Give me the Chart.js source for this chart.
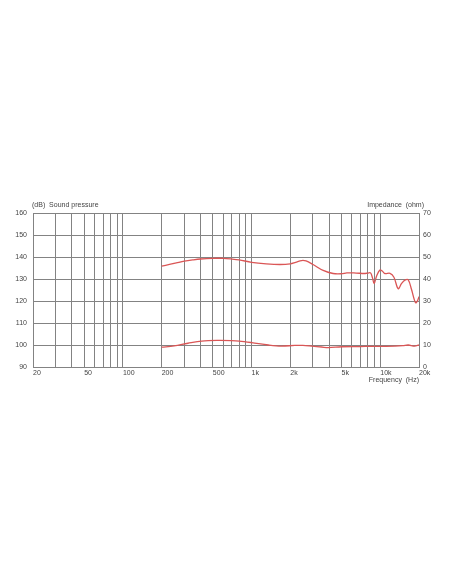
<!DOCTYPE html>
<html>
<head>
<meta charset="utf-8">
<script src="https://cdn.jsdelivr.net/npm/chart.js@4.4.1/dist/chart.umd.min.js"></script>
<style>
  html, body { margin: 0; padding: 0; background: #fff; }
  #wrap { position: relative; width: 452px; height: 584px; }
  .cap { position: absolute; font: 7px "Liberation Sans", Arial, sans-serif; color: #444; white-space: pre; line-height: 8px; }
</style>
</head>
<body>
<div id="wrap">
  <canvas id="c" width="452" height="584"></canvas>
  <div class="cap" style="left:32px; top:201px;">(dB)  Sound pressure</div>
  <div class="cap" style="right:28px; top:201px;">Impedance  (ohm)</div>
</div>
<script>
// ---- data ----
const splFreq = [200, 230, 260, 300, 350, 400, 500, 600, 700, 800, 1000, 1300, 1660, 2000, 2200, 2450, 2650, 3000, 3600, 4300, 5000, 5500, 6500, 7500, 8000, 8400, 8700, 8975, 9370, 9940, 10400, 10870, 11900, 12770, 13780, 14650, 15540, 16500, 17500, 18800, 19500, 20000];
const splDb   = [135.8, 136.6, 137.3, 138.1, 138.7, 139.1, 139.4, 139.4, 139.1, 138.7, 137.6, 136.9, 136.6, 136.9, 137.6, 138.4, 138.2, 136.6, 133.9, 132.5, 132.4, 132.8, 132.7, 132.5, 132.7, 132.8, 130.5, 128.0, 131.4, 134.1, 133.5, 132.5, 132.6, 130.8, 125.6, 128.0, 129.5, 129.6, 125.2, 119.2, 120.2, 122.0];
const impFreq = [200, 250, 320, 410, 550, 700, 800, 1000, 1350, 1700, 2170, 2500, 2930, 3500, 3940, 5000, 7000, 8500, 10000, 13000, 15000, 16500, 18500, 20000];
const impOhm  = [9.0, 9.6, 10.8, 11.8, 12.1, 12.0, 11.8, 11.1, 10.0, 9.5, 9.8, 9.8, 9.5, 9.1, 8.8, 9.2, 9.3, 9.4, 9.4, 9.5, 9.7, 10.0, 9.5, 10.0];
const freqGrid = [20, 30, 40, 50, 60, 70, 80, 90, 100, 200, 300, 400, 500, 600, 700, 800, 900, 1000, 2000, 3000, 4000, 5000, 6000, 7000, 8000, 9000, 10000, 20000];
const freqLabelValues = [20, 50, 100, 200, 500, 1000, 2000, 5000, 10000, 20000];
const freqLabelTexts  = ['20', '50', '100', '200', '500', '1k', '2k', '5k', '10k', '20k'];
const dbTicks  = [90, 100, 110, 120, 130, 140, 150, 160];
const ohmTicks = [0, 10, 20, 30, 40, 50, 60, 70];

const tickFont = { family: '"Liberation Sans", Arial, sans-serif', size: 7 };
const tickColor = '#444';
const gridColor = '#838383';
const lineColor = 'rgb(218,86,86)';

const toPts = (xs, ys) => xs.map((x, i) => ({ x: x, y: ys[i] }));

new Chart(document.getElementById('c'), {
  type: 'line',
  data: {
    datasets: [
      { label: 'Sound pressure', data: toPts(splFreq, splDb), yAxisID: 'yL',
        borderColor: lineColor, borderWidth: 1.3, pointRadius: 0, tension: 0.35, fill: false },
      { label: 'Impedance', data: toPts(impFreq, impOhm), yAxisID: 'yR',
        borderColor: lineColor, borderWidth: 1.3, pointRadius: 0, tension: 0.35, fill: false }
    ]
  },
  options: {
    responsive: false,
    animation: false,
    devicePixelRatio: 1,
    layout: { padding: { top: 213, bottom: 584 - 367 - 17, left: 0, right: 0 } },
    plugins: { legend: { display: false }, tooltip: { enabled: false }, title: { display: false } },
    scales: {
      x: {
        type: 'logarithmic', min: 20, max: 20000, position: 'bottom',
        afterBuildTicks: s => { s.ticks = freqGrid.map(v => ({ value: v })); },
        afterFit: s => { s.height = 17; },
        grid: { color: gridColor, lineWidth: 1, drawTicks: false },
        border: { color: gridColor },
        ticks: {
          autoSkip: false, maxRotation: 0, minRotation: 0, align: 'start', padding: 2,
          font: tickFont, color: tickColor,
          callback: v => { const i = freqLabelValues.indexOf(v); return i >= 0 ? freqLabelTexts[i] : ''; }
        },
        title: { display: true, text: 'Frequency  (Hz)', align: 'end', font: tickFont, color: tickColor, padding: { top: 0, bottom: 0 } }
      },
      yL: {
        type: 'linear', position: 'left', min: 90, max: 160,
        afterBuildTicks: s => { s.ticks = dbTicks.map(v => ({ value: v })); },
        afterFit: s => { s.width = 33; },
        grid: { color: gridColor, lineWidth: 1, drawTicks: false },
        border: { color: gridColor },
        ticks: { font: tickFont, color: tickColor, padding: 6 }
      },
      yR: {
        type: 'linear', position: 'right', min: 0, max: 70,
        afterBuildTicks: s => { s.ticks = ohmTicks.map(v => ({ value: v })); },
        afterFit: s => { s.width = 33; },
        grid: { display: false, drawTicks: false },
        border: { color: gridColor },
        ticks: { font: tickFont, color: tickColor, padding: 4 }
      }
    }
  }
});
</script>
</body>
</html>
